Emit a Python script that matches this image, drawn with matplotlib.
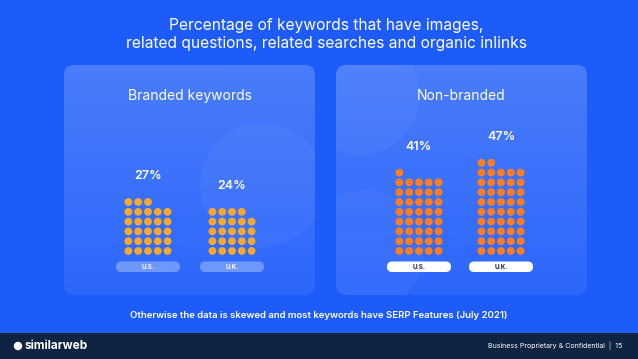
import numpy as np
import matplotlib
matplotlib.use('Agg')
import matplotlib.pyplot as plt
from matplotlib.patches import Circle, FancyBboxPatch, Rectangle

plt.rcParams['font.family'] = ['Inter', 'DejaVu Sans']

# data
title = "Percentage of keywords that have images,\nrelated questions, related searches and organic inlinks"
panel_titles = ["Branded keywords", "Non-branded"]
countries = ["U.S.", "U.K."]
branded_pct = [27, 24]
nonbranded_pct = [41, 47]
# dots actually drawn in the picture
branded_dots = [28, 24]
nonbranded_dots = [41, 47]
note = "Otherwise the data is skewed and most keywords have SERP Features (July 2021)"
footer = "Business Proprietary & Confidential  |  15"

W, H = 638, 359
BG = '#1d5cfb'
fig = plt.figure(figsize=(W / 100, H / 100), dpi=100)
fig.patch.set_facecolor(BG)
ax = fig.add_axes([0, 0, 1, 1])
ax.set_xlim(0, W)
ax.set_ylim(H, 0)
ax.axis('off')

ax.text(326, 34.5, title, ha='center', va='center', color='white',
        fontsize=11.2, linespacing=1.25, zorder=5)

# panels
panels = [
    dict(x0=64, x1=315, title=panel_titles[0], pct=branded_pct, dots=branded_dots,
         cols=[148, 232], dot='#f5a82a', pill='#6f98ff', pill_txt='white',
         deco=[(262, 185, 62)]),
    dict(x0=336, x1=587, title=panel_titles[1], pct=nonbranded_pct, dots=nonbranded_dots,
         cols=[419, 501], dot='#ff7d1f', pill='white', pill_txt='#1b2a4a',
         deco=[(360, 95, 60), (365, 250, 60)]),
]
top, bottom = 65, 295
step = 9.8
r = 3.9
base_y = 251
grad = np.linspace(1, 0.35, 100).reshape(-1, 1)
for p in panels:
    box = FancyBboxPatch((p['x0'], top), p['x1'] - p['x0'], bottom - top,
                         boxstyle='round,pad=0,rounding_size=10',
                         facecolor='none', lw=0, zorder=2)
    ax.add_patch(box)
    img = np.zeros((100, 1, 4))
    img[..., :3] = 1.0
    img[..., 3] = grad * 0.2
    im = ax.imshow(img, extent=(p['x0'], p['x1'], bottom, top), aspect='auto',
                   zorder=2, interpolation='bilinear')
    im.set_clip_path(box)
    for (cx, cy, rr) in p['deco']:
        c = Circle((cx, cy), rr, facecolor='white', alpha=0.04, lw=0, zorder=3)
        ax.add_patch(c)
        c.set_clip_path(box)
    ax.text((p['x0'] + p['x1']) / 2, 96, p['title'], ha='center', va='center',
            color='white', fontsize=10, zorder=5)
    for cx, n, pct, lab in zip(p['cols'], p['dots'], p['pct'], countries):
        full = n // 5
        rest = n % 5
        rows = full + (1 if rest else 0)
        for i in range(n):
            row = i // 5 if i < full * 5 else full
            col = i % 5 if i < full * 5 else i - full * 5
            x = cx + (col - 2) * step
            y = base_y - row * step
            ax.add_patch(Circle((x, y), r, facecolor=p['dot'], lw=0, zorder=4))
        top_y = base_y - (rows - 1) * step
        ax.text(cx, top_y - 26, f"{pct}%", ha='center', va='center', color='white',
                fontsize=9, fontweight='semibold', zorder=5)
        ax.add_patch(FancyBboxPatch((cx - 32, 261.5), 64, 10.5,
                                    boxstyle='round,pad=0,rounding_size=5.2',
                                    facecolor=p['pill'], lw=0, zorder=4))
        ax.text(cx, 267, lab, ha='center', va='center', color=p['pill_txt'],
                fontsize=4.6, fontweight='bold', zorder=5)

ax.text(W / 2, 315, note, ha='center', va='center', color='white',
        fontsize=6.9, fontweight='semibold', zorder=5)

# footer band
ax.add_patch(Rectangle((0, 333), W, H - 333, facecolor='#0f2342', lw=0, zorder=6))
ax.add_patch(Circle((18, 346), 4.2, facecolor='white', lw=0, zorder=7))
ax.text(25, 346, "similarweb", ha='left', va='center', color='white',
        fontsize=8.5, fontweight='bold', zorder=7)
ax.text(622, 346, footer, ha='right', va='center', color='white',
        fontsize=5.1, zorder=7)

fig.savefig('out.png', dpi=100, facecolor=BG)
